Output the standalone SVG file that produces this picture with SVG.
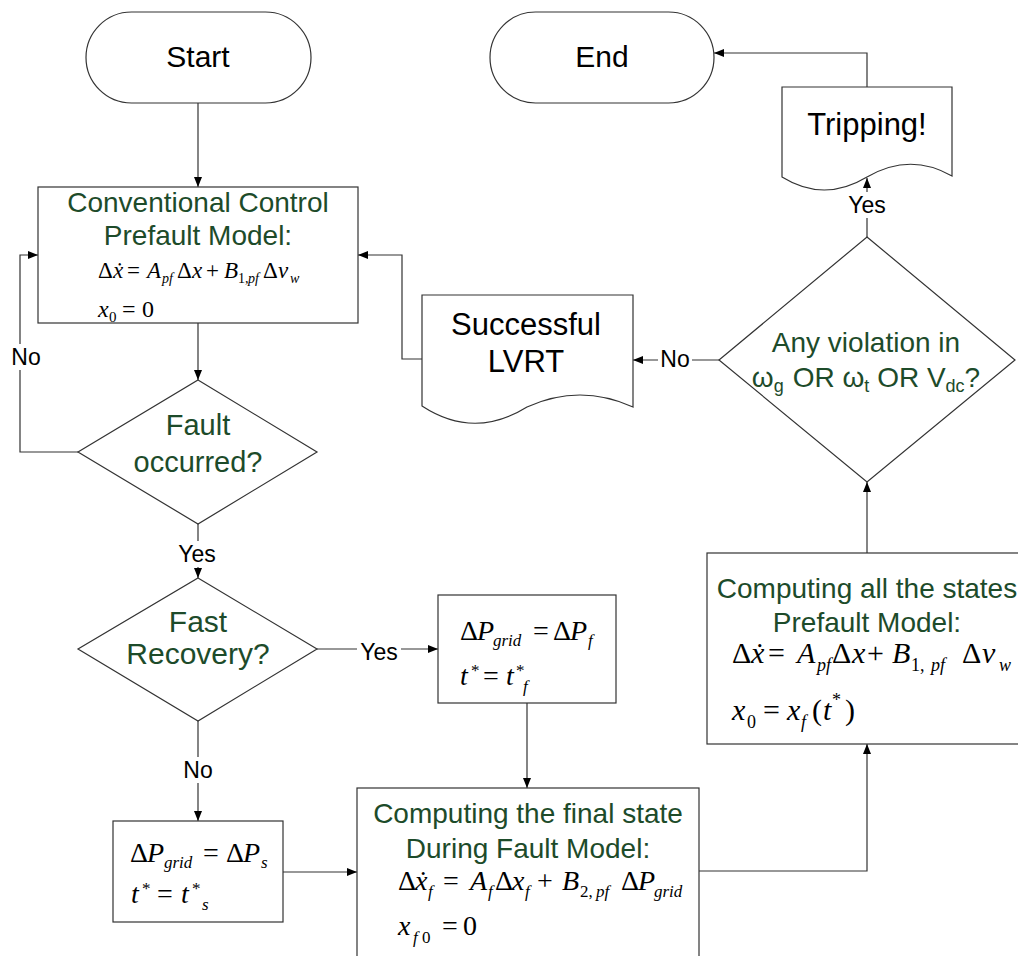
<svg xmlns="http://www.w3.org/2000/svg" width="1018" height="956" viewBox="0 0 1018 956">
  <style>
    .box { fill:#fff; stroke:#333; stroke-width:1.2; }
    .ln { fill:none; stroke:#333; stroke-width:1.2; }
    .g { font-family:"Liberation Sans", Arial, sans-serif; fill:#1d4b2a; text-anchor:middle; }
    .k { font-family:"Liberation Sans", Arial, sans-serif; fill:#000; text-anchor:middle; }
    .lab { font-family:"Liberation Sans", Arial, sans-serif; fill:#000; text-anchor:middle; font-size:23px; }
    .eq { font-family:"Liberation Serif", "Times New Roman", serif; font-style:italic; fill:#000; }
    .u { font-style:normal; }
  </style>
  <defs>
    <marker id="ah" markerWidth="10" markerHeight="8" refX="10" refY="4" orient="auto" markerUnits="userSpaceOnUse">
      <path d="M0,0 L10,4 L0,8 Z" fill="#000"/>
    </marker>
  </defs>
  <rect width="1018" height="956" fill="#fff"/>

  <!-- connectors -->
  <g id="connectors">
    <path class="ln" d="M198,103 V187" marker-end="url(#ah)"/>
    <path class="ln" d="M198,323 V380" marker-end="url(#ah)"/>
    <path class="ln" d="M78,452 H20 V255 H38" marker-end="url(#ah)"/>
    <path class="ln" d="M198,524 V578" marker-end="url(#ah)"/>
    <path class="ln" d="M317,649 H438" marker-end="url(#ah)"/>
    <path class="ln" d="M198,721 V821" marker-end="url(#ah)"/>
    <path class="ln" d="M527,703 V788" marker-end="url(#ah)"/>
    <path class="ln" d="M283,872 H357" marker-end="url(#ah)"/>
    <path class="ln" d="M699,871 H867 V744" marker-end="url(#ah)"/>
    <path class="ln" d="M867,553 V482" marker-end="url(#ah)"/>
    <path class="ln" d="M719,360 H633" marker-end="url(#ah)"/>
    <path class="ln" d="M422,359 H402 V255 H358" marker-end="url(#ah)"/>
    <path class="ln" d="M867,237 V178" marker-end="url(#ah)"/>
    <path class="ln" d="M867,87 V53 H714" marker-end="url(#ah)"/>

    <!-- branch labels -->
    <rect x="8" y="344" width="36" height="26" fill="#fff"/>
    <text class="lab" x="26" y="365">No</text>
    <rect x="175" y="541" width="44" height="26" fill="#fff"/>
    <text class="lab" x="197" y="562">Yes</text>
    <rect x="357" y="638" width="44" height="26" fill="#fff"/>
    <text class="lab" x="379" y="660">Yes</text>
    <rect x="181" y="757" width="34" height="26" fill="#fff"/>
    <text class="lab" x="198" y="778">No</text>
    <rect x="658" y="346" width="34" height="26" fill="#fff"/>
    <text class="lab" x="675" y="367">No</text>
    <rect x="845" y="192" width="44" height="26" fill="#fff"/>
    <text class="lab" x="867" y="213">Yes</text>
  </g>

  <!-- terminals -->
  <g id="start">
    <rect class="box" x="86" y="12" width="225" height="91" rx="45.5" ry="45.5"/>
    <text class="k" x="198" y="67" font-size="30">Start</text>
  </g>
  <g id="end">
    <rect class="box" x="490" y="12" width="224" height="91" rx="45.5" ry="45.5"/>
    <text class="k" x="602" y="67" font-size="30">End</text>
  </g>

  <!-- conventional control model -->
  <g id="conventional">
    <rect class="box" x="38" y="187" width="320" height="136"/>
    <text class="g" x="198" y="212" font-size="28">Conventional Control</text>
    <text class="g" x="198" y="245" font-size="28">Prefault Model:</text>
    <text class="eq" font-size="23">
      <tspan class="u" x="98" y="278">Δ</tspan><tspan x="113" y="278">ẋ</tspan><tspan class="u" x="127" y="278">=</tspan><tspan x="147" y="278">A</tspan><tspan x="162" y="283" font-size="14">pf</tspan><tspan class="u" x="177" y="278">Δ</tspan><tspan x="192" y="278">x</tspan><tspan class="u" x="206" y="278">+</tspan><tspan x="224" y="278">B</tspan><tspan class="u" x="238" y="283" font-size="14">1,</tspan><tspan x="248" y="283" font-size="14">pf</tspan><tspan class="u" x="263" y="278">Δ</tspan><tspan x="278" y="278">v</tspan><tspan x="290" y="283" font-size="14">w</tspan>
    </text>
    <text class="eq" font-size="24">
      <tspan x="98" y="317">x</tspan><tspan class="u" x="109" y="322" font-size="15">0</tspan><tspan class="u" x="122" y="317">=</tspan><tspan class="u" x="142" y="317">0</tspan>
    </text>
  </g>

  <!-- decision: fault -->
  <g id="fault">
    <polygon class="box" points="198,380 317,452 198,524 78,452"/>
    <text class="g" x="198" y="435" font-size="29">Fault</text>
    <text class="g" x="198" y="472" font-size="29">occurred?</text>
  </g>

  <!-- decision: fast recovery -->
  <g id="fast-recovery">
    <polygon class="box" points="198,578 317,649 198,721 78,649"/>
    <text class="g" x="198" y="632" font-size="30">Fast</text>
    <text class="g" x="198" y="664" font-size="30">Recovery?</text>
  </g>

  <!-- fast recovery settings -->
  <g id="fast-settings">
    <rect class="box" x="438" y="595" width="178" height="108"/>
    <text class="eq" font-size="28">
      <tspan class="u" x="460" y="640">Δ</tspan><tspan x="477" y="640">P</tspan><tspan x="493" y="646" font-size="17">grid</tspan><tspan class="u" x="533" y="640">=</tspan><tspan class="u" x="553" y="640">Δ</tspan><tspan x="570" y="640">P</tspan><tspan x="588" y="646" font-size="17">f</tspan>
    </text>
    <text class="eq" font-size="28">
      <tspan x="460" y="685">t</tspan><tspan class="u" x="471" y="676" font-size="17">*</tspan><tspan class="u" x="483" y="685">=</tspan><tspan x="506" y="685">t</tspan><tspan class="u" x="516" y="676" font-size="17">*</tspan><tspan x="523" y="692" font-size="17">f</tspan>
    </text>
  </g>

  <!-- slow recovery settings -->
  <g id="slow-settings">
    <rect class="box" x="113" y="821" width="170" height="101"/>
    <text class="eq" font-size="28">
      <tspan class="u" x="130" y="862">Δ</tspan><tspan x="147" y="862">P</tspan><tspan x="164" y="868" font-size="17">grid</tspan><tspan class="u" x="203" y="862">=</tspan><tspan class="u" x="226" y="862">Δ</tspan><tspan x="243" y="862">P</tspan><tspan x="261" y="868" font-size="17">s</tspan>
    </text>
    <text class="eq" font-size="28">
      <tspan x="131" y="903">t</tspan><tspan class="u" x="142" y="894" font-size="17">*</tspan><tspan class="u" x="157" y="903">=</tspan><tspan x="181" y="903">t</tspan><tspan class="u" x="192" y="894" font-size="17">*</tspan><tspan x="202" y="910" font-size="17">s</tspan>
    </text>
  </g>

  <!-- during-fault model -->
  <g id="final-state">
    <rect class="box" x="357" y="788" width="342" height="180"/>
    <text class="g" x="528" y="823" font-size="28">Computing the final state</text>
    <text class="g" x="528" y="858" font-size="28">During Fault Model:</text>
    <text class="eq" font-size="28">
      <tspan class="u" x="398" y="890">Δ</tspan><tspan x="415" y="890">ẋ</tspan><tspan x="428" y="897" font-size="17">f</tspan><tspan class="u" x="443" y="890">=</tspan><tspan x="470" y="890">A</tspan><tspan x="488" y="897" font-size="17">f</tspan><tspan class="u" x="495" y="890">Δ</tspan><tspan x="512" y="890">x</tspan><tspan x="525" y="897" font-size="17">f</tspan><tspan class="u" x="537" y="890">+</tspan><tspan x="562" y="890">B</tspan><tspan class="u" x="580" y="897" font-size="17">2,</tspan><tspan x="596" y="897" font-size="17">pf</tspan><tspan class="u" x="621" y="890">Δ</tspan><tspan x="638" y="890">P</tspan><tspan x="654" y="897" font-size="17">grid</tspan>
    </text>
    <text class="eq" font-size="28">
      <tspan x="398" y="935">x</tspan><tspan x="413" y="943" font-size="17">f</tspan><tspan class="u" x="422" y="943" font-size="17">0</tspan><tspan class="u" x="442" y="935">=</tspan><tspan class="u" x="463" y="935">0</tspan>
    </text>
  </g>

  <!-- post-fault model -->
  <g id="all-states">
    <rect class="box" x="707" y="553" width="320" height="191"/>
    <text class="g" x="867" y="598" font-size="28">Computing all the states</text>
    <text class="g" x="867" y="632" font-size="28">Prefault Model:</text>
    <text class="eq" font-size="30">
      <tspan class="u" x="732" y="663">Δ</tspan><tspan x="751" y="663">ẋ</tspan><tspan class="u" x="768" y="663">=</tspan><tspan x="797" y="663">A</tspan><tspan x="817" y="671" font-size="18">pf</tspan><tspan class="u" x="832" y="663">Δ</tspan><tspan x="852" y="663">x</tspan><tspan class="u" x="867" y="663">+</tspan><tspan x="892" y="663">B</tspan><tspan class="u" x="911" y="671" font-size="18">1,</tspan><tspan x="931" y="671" font-size="18">pf</tspan><tspan class="u" x="962" y="663">Δ</tspan><tspan x="982" y="663">v</tspan><tspan x="999" y="671" font-size="18">w</tspan>
    </text>
    <text class="eq" font-size="30">
      <tspan x="732" y="720">x</tspan><tspan class="u" x="747" y="728" font-size="18">0</tspan><tspan class="u" x="763" y="720">=</tspan><tspan x="787" y="720">x</tspan><tspan x="801" y="728" font-size="18">f</tspan><tspan class="u" x="812" y="720">(</tspan><tspan x="823" y="720">t</tspan><tspan class="u" x="832" y="706" font-size="18">*</tspan><tspan class="u" x="845" y="720">)</tspan>
    </text>
  </g>

  <!-- decision: limit violation -->
  <g id="violation">
    <polygon class="box" points="867,237 1015,360 867,482 719,360"/>
    <text class="g" x="866" y="352" font-size="28">Any violation in</text>
    <text class="g" x="866" y="387" font-size="28">ω<tspan font-size="18" dy="5">g</tspan><tspan dy="-5" dx="9">OR ω</tspan><tspan font-size="18" dy="5">t</tspan><tspan dy="-5"> OR V</tspan><tspan font-size="18" dy="5">dc</tspan><tspan dy="-5">?</tspan></text>
  </g>

  <!-- outcome documents -->
  <g id="lvrt">
    <path class="box" d="M422,295 H633 V407 Q580,383 527,407 Q474,440 422,406 Z"/>
    <text class="k" x="526" y="335" font-size="31">Successful</text>
    <text class="k" x="526" y="372" font-size="31">LVRT</text>
  </g>
  <g id="tripping">
    <path class="box" d="M782,87 H952 V176 Q910,152 867,177 Q824,203 782,177 Z"/>
    <text class="k" x="867" y="135" font-size="31">Tripping!</text>
  </g>
</svg>
